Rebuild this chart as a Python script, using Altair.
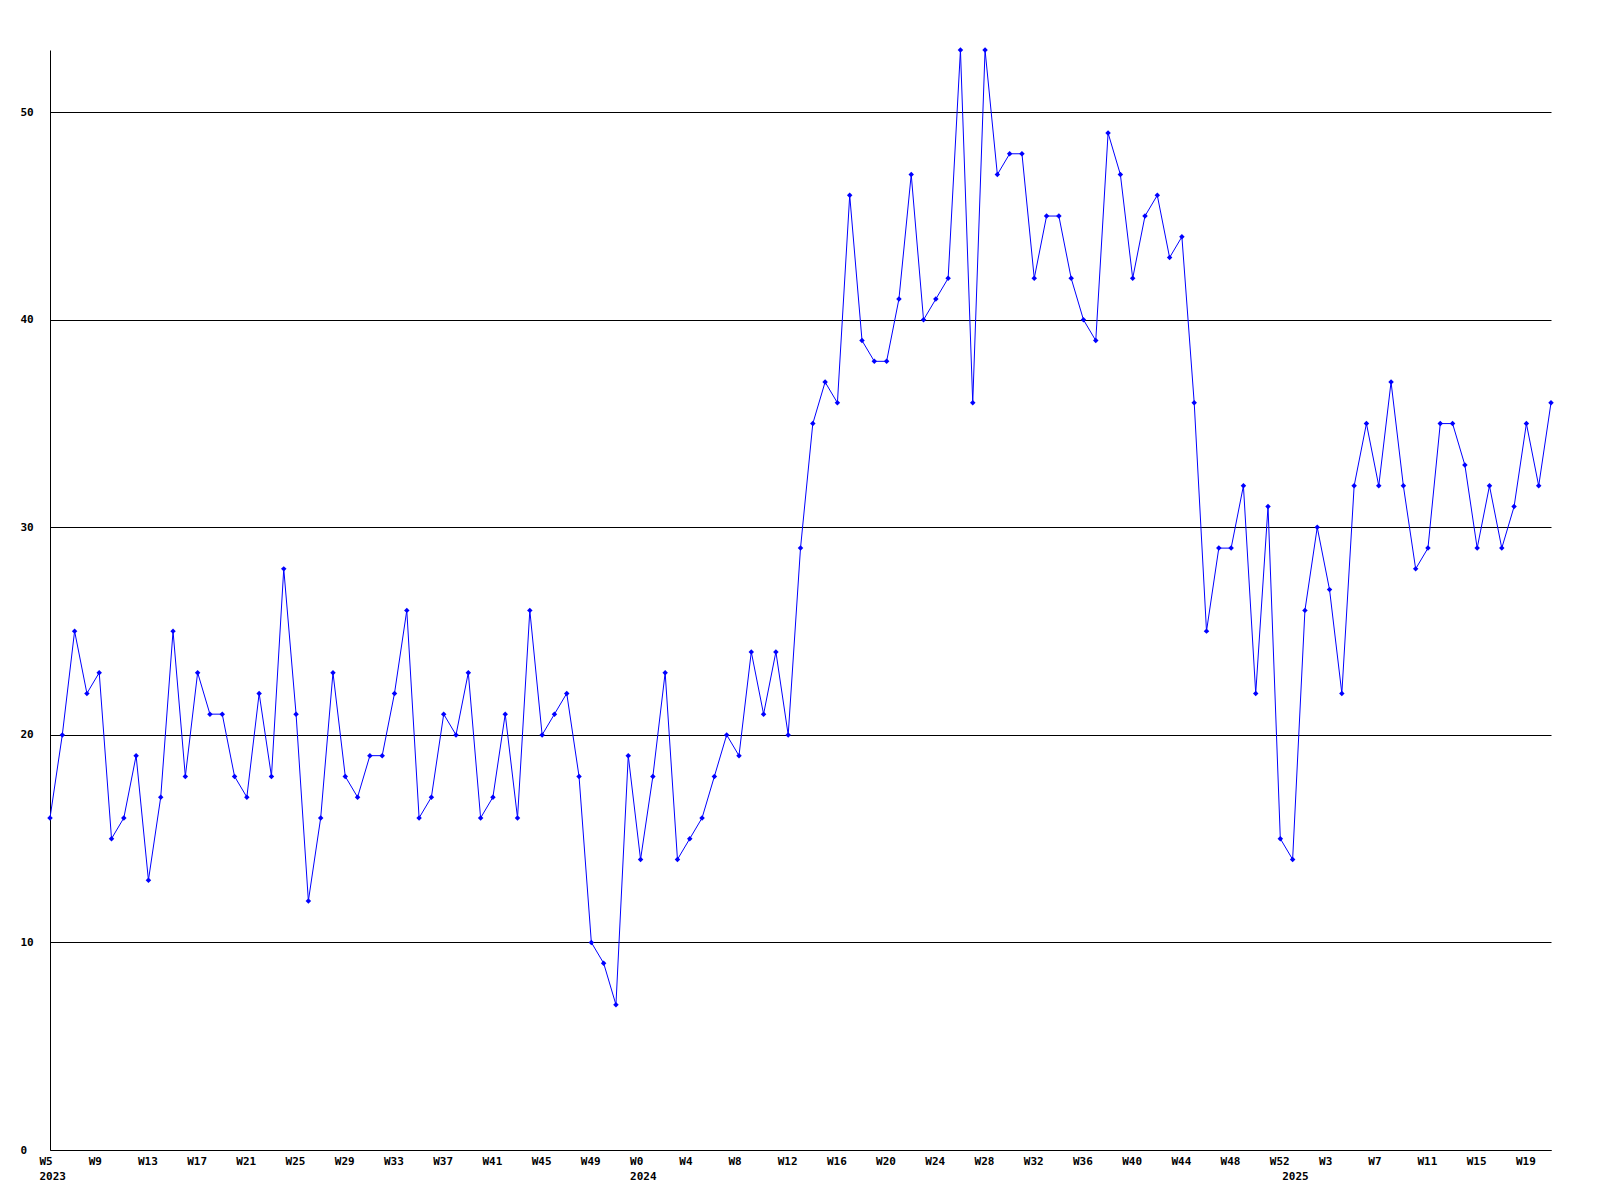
import json
import altair as alt
import pandas as pd

# Weekly counts, 2023 W5 .. 2025 W21 (123 weeks)
values = [
    16, 20, 25, 22, 23, 15, 16, 19, 13, 17, 25, 18, 23, 21, 21, 18, 17, 22, 18, 28,
    21, 12, 16, 23, 18, 17, 19, 19, 22, 26, 16, 17, 21, 20, 23, 16, 17, 21, 16, 26,
    20, 21, 22, 18, 10, 9, 7, 19, 14, 18, 23, 14, 15, 16, 18, 20, 19, 24, 21, 24,
    20, 29, 35, 37, 36, 46, 39, 38, 38, 41, 47, 40, 41, 42, 53, 36, 53, 47, 48, 48,
    42, 45, 45, 42, 40, 39, 49, 47, 42, 45, 46, 43, 44, 36, 25, 29, 29, 32, 22, 31,
    15, 14, 26, 30, 27, 22, 32, 35, 32, 37, 32, 28, 29, 35, 35, 33, 29, 32, 29, 31,
    35, 32, 36,
]

# x-axis tick positions (week index) and their labels
tick_index = [1, 5, 9, 13, 17, 21, 25, 29, 33, 37, 41, 45,
              49, 53, 57, 61, 65, 69, 73, 77, 81, 85, 89, 93, 97, 101,
              102, 105, 109, 113, 117, 121]
tick_week = ["W5", "W9", "W13", "W17", "W21", "W25", "W29", "W33", "W37", "W41", "W45", "W49",
             "W0", "W4", "W8", "W12", "W16", "W20", "W24", "W28", "W32", "W36", "W40", "W44", "W48", "W52",
             "", "W3", "W7", "W11", "W15", "W19"]
tick_year = ["2023", "", "", "", "", "", "", "", "", "", "", "",
             "2024", "", "", "", "", "", "", "", "", "", "", "", "", "",
             "2025", "", "", "", "", ""]
y_ticks = [0, 10, 20, 30, 40, 50]

df = pd.DataFrame({"idx": list(range(1, len(values) + 1)), "value": values})

T = json.dumps(tick_index)
W = json.dumps(tick_week)
Y = json.dumps(tick_year)
label_expr = (
    f"[{W}[indexof({T}, datum.value)], {Y}[indexof({T}, datum.value)]]"
)

FONT = "DejaVu Sans Mono"

x_enc = alt.X(
    "idx:Q",
    scale=alt.Scale(domain=[1, len(values)], nice=False, zero=False),
    axis=alt.Axis(
        values=tick_index,
        labelExpr=label_expr,
        title=None,
        grid=False,
        ticks=False,
        domain=True,
        domainColor="black",
        domainWidth=1,
        labelAlign="left",
        labelOffset=-11,
        labelBaseline="top",
        labelPadding=5,
        labelLineHeight=15,
        labelFont=FONT,
        labelFontSize=11,
        labelFontWeight="bold",
        labelColor="black",
        labelOverlap=False,
        labelFlush=False,
        labelBound=False,
    ),
)
y_enc = alt.Y(
    "value:Q",
    scale=alt.Scale(domain=[0, 53], nice=False, zero=True),
    axis=alt.Axis(
        values=y_ticks,
        title=None,
        grid=True,
        gridColor="black",
        gridWidth=1,
        gridOpacity=1,
        ticks=False,
        domain=True,
        domainColor="black",
        domainWidth=1,
        labelAlign="left",
        labelBaseline="middle",
        labelPadding=30,
        labelFont=FONT,
        labelFontSize=11,
        labelFontWeight="bold",
        labelColor="black",
        labelOverlap=False,
        labelFlush=False,
        labelBound=False,
    ),
)

line = alt.Chart(df).mark_line(color="#0000FF", strokeWidth=1).encode(x=x_enc, y=y_enc)
pts = alt.Chart(df).mark_point(
    shape="diamond", filled=True, color="#0000FF", size=30, opacity=1
).encode(x="idx:Q", y="value:Q")

chart = (
    alt.layer(line, pts)
    .properties(
        width=1501,
        height=1100,
        autosize=alt.AutoSizeParams(type="none"),
        padding={"left": 42, "top": 42, "right": 41, "bottom": 42},
        background="white",
    )
    .configure_view(stroke=None)
)

chart.save("out.html", embed_options={"renderer": "svg", "actions": False})
